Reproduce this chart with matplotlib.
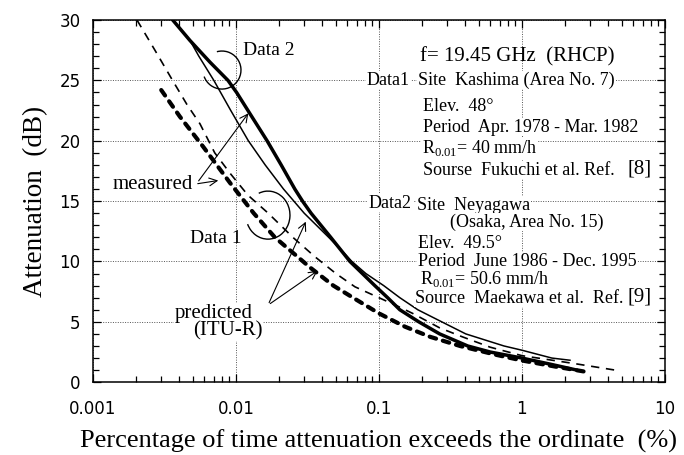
import matplotlib
matplotlib.use("Agg")
import matplotlib.pyplot as plt
from matplotlib.patches import Arc
from matplotlib.ticker import LogLocator, FixedLocator, MultipleLocator, FixedFormatter

SERIF = "Liberation Serif"
SANS = "DejaVu Sans"

# curves: percentage of time (%) vs attenuation (dB)
thick_solid_x = [0.00361, 0.00477, 0.00659, 0.00879, 0.0101, 0.0129, 0.0165, 0.0207, 0.0258,
                 0.0292, 0.0335, 0.0460, 0.0627, 0.0936, 0.115, 0.140, 0.19, 0.266, 0.418,
                 0.6, 1.0, 1.57, 2.43]
thick_solid_y = [30.0, 28.3, 26.5, 25.0, 24.0, 22.0, 20.0, 18.0, 16.0,
                 15.0, 14.0, 12.0, 10.0, 8.0, 7.0, 6.0, 5.0, 4.0, 3.0,
                 2.5, 2.0, 1.5, 1.0]

thin_solid_x = [0.00361, 0.00477, 0.0055, 0.0070, 0.0092, 0.0122, 0.0160, 0.0215, 0.0300,
                0.0445, 0.0540, 0.0647, 0.081, 0.108, 0.140, 0.187, 0.275, 0.405, 0.75,
                1.0, 1.62, 2.17]
thin_solid_y = [30.0, 28.3, 27.0, 25.0, 22.5, 20.0, 18.0, 16.0, 14.0,
                12.0, 11.0, 10.0, 9.0, 8.0, 7.0, 6.0, 5.0, 4.0, 3.0,
                2.65, 2.0, 1.82]

thin_dash_x = [0.00203, 0.00271, 0.0036, 0.00454, 0.0056, 0.0071, 0.0091, 0.0121, 0.0168,
               0.025, 0.0356, 0.050, 0.068, 0.1, 0.135, 0.172, 0.266, 0.385, 0.60,
               1.0, 2.31, 4.5]
thin_dash_y = [30.0, 27.5, 25.0, 23.0, 21.4, 19.0, 17.3, 15.5, 14.0,
               12.0, 10.4, 9.0, 7.9, 7.0, 6.3, 5.7, 4.5, 3.75, 2.9,
               2.2, 1.55, 1.0]

thick_dash_x = [0.0030, 0.00405, 0.0059, 0.0091, 0.0133, 0.0187, 0.0263, 0.033, 0.048,
                0.068, 0.1, 0.152, 0.228, 0.369, 0.67, 1.0, 1.7, 2.9]
thick_dash_y = [24.2, 22.0, 19.5, 16.5, 14.0, 12.0, 10.5, 9.5, 8.0,
                6.9, 5.7, 4.6, 3.76, 3.0, 2.25, 1.8, 1.3, 0.83]

x_ticks = [0.001, 0.01, 0.1, 1, 10]
x_labels = ["0.001", "0.01", "0.1", "1", "10"]
y_ticks = [0, 5, 10, 15, 20, 25, 30]

fig = plt.figure(figsize=(6.84, 4.55), dpi=100)
ax = fig.add_axes([0.136, 0.160, 0.836, 0.796])

ax.plot(thick_solid_x, thick_solid_y, color="black", lw=2.5, solid_capstyle="round",
        solid_joinstyle="round", zorder=3)
ax.plot(thin_solid_x, thin_solid_y, color="black", lw=1.1, zorder=3)
ax.plot(thin_dash_x, thin_dash_y, color="black", lw=1.2, linestyle=(0, (5, 4)), zorder=3)
ax.plot(thick_dash_x, thick_dash_y, color="black", lw=3.0, linestyle=(0, (1.6, 1.7)),
        dash_capstyle="round", zorder=3)

ax.set_xscale("log")
ax.set_xlim(0.001, 10)
ax.set_ylim(0, 30)
ax.xaxis.set_major_locator(FixedLocator(x_ticks))
ax.xaxis.set_major_formatter(FixedFormatter(x_labels))
ax.xaxis.set_minor_locator(LogLocator(base=10, subs=range(2, 10)))
ax.yaxis.set_major_locator(FixedLocator(y_ticks))
ax.yaxis.set_minor_locator(MultipleLocator(1))
ax.tick_params(which="both", direction="in", top=True, right=True, width=0.9)
ax.tick_params(which="major", length=6)
ax.tick_params(which="minor", length=4)
ax.tick_params(axis="x", which="major", pad=13)
ax.tick_params(axis="y", which="major", pad=9)
for lab in ax.get_xticklabels() + ax.get_yticklabels():
    lab.set_fontfamily(SANS)
    lab.set_fontsize(12)
for s in ax.spines.values():
    s.set_linewidth(1.1)

ax.grid(True, which="major", color="#555555", linestyle=(0, (1, 1.5)), linewidth=0.7)
ax.set_axisbelow(True)

ax.set_xlabel("Percentage of time attenuation exceeds the ordinate  (%)",
              fontfamily=SERIF, fontsize=19, labelpad=8)
ax.set_ylabel("Attenuation  (dB)", fontfamily=SERIF, fontsize=19.5, labelpad=8)


def px(x, y):
    # pixel in the reference picture -> axes fraction
    return ((x - 93) / 572.0, (382 - y) / 362.0)


box = dict(facecolor="white", edgecolor="none", pad=0.5)

ax.text(*px(243, 50), "Data 2", transform=ax.transAxes, fontfamily=SERIF, fontsize=14,
        va="center", ha="left")
ax.text(*px(190, 238), "Data 1", transform=ax.transAxes, fontfamily=SERIF, fontsize=14,
        va="center", ha="left")
ax.add_patch(Arc(px(222, 70), 38 / 572.0, 38 / 362.0, theta1=210, theta2=100,
                 transform=ax.transAxes, color="black", lw=1.0))
ax.add_patch(Arc(px(268, 215), 44 / 572.0, 48 / 362.0, theta1=215, theta2=105,
                 transform=ax.transAxes, color="black", lw=1.0))

ax.text(*px(113, 184), "measured", transform=ax.transAxes, fontfamily=SERIF, fontsize=15,
        va="center", ha="left", bbox=box)
arrow = dict(arrowstyle="->", color="black", lw=0.8, mutation_scale=14)
ax.annotate("", xy=px(250, 111), xytext=px(197, 183), xycoords="axes fraction",
            textcoords="axes fraction", arrowprops=arrow)
ax.annotate("", xy=px(221, 180), xytext=px(195, 184), xycoords="axes fraction",
            textcoords="axes fraction", arrowprops=arrow)

ax.text(*px(214, 313), "predicted", transform=ax.transAxes, fontfamily=SERIF, fontsize=15,
        va="center", ha="center", bbox=box)
ax.text(*px(228, 331), "(ITU-R)", transform=ax.transAxes, fontfamily=SERIF, fontsize=15,
        va="center", ha="center", bbox=box)
ax.annotate("", xy=px(307, 219), xytext=px(268, 305), xycoords="axes fraction",
            textcoords="axes fraction", arrowprops=arrow)
ax.annotate("", xy=px(320, 269), xytext=px(268, 305), xycoords="axes fraction",
            textcoords="axes fraction", arrowprops=arrow)

ax.text(*px(420, 57), "f= 19.45 GHz  (RHCP)", transform=ax.transAxes, fontfamily=SERIF,
        fontsize=15, va="center", ha="left")

info = [
    (367, 80, "Data1"),
    (418, 80, "Site  Kashima (Area No. 7)"),
    (423, 106, "Elev.  48°"),
    (423, 127, "Period  Apr. 1978 - Mar. 1982"),
    (422, 148, r"R$_{\mathregular{0.01}}$= 40 mm/h"),
    (423, 170, "Sourse  Fukuchi et al. Ref."),
    (369, 203, "Data2"),
    (417, 205, "Site  Neyagawa"),
    (450, 222, "(Osaka, Area No. 15)"),
    (418, 243, "Elev.  49.5°"),
    (418, 261, "Period  June 1986 - Dec. 1995"),
    (420, 279, r"R$_{\mathregular{0.01}}$= 50.6 mm/h"),
    (415, 298, "Source  Maekawa et al.  Ref."),
]
for x, y, s in info:
    ax.text(*px(x, y), s, transform=ax.transAxes, fontfamily=SERIF, fontsize=13,
            va="center", ha="left", bbox=box)
ax.text(*px(652, 169), "[8]", transform=ax.transAxes, fontfamily=SERIF, fontsize=15,
        va="center", ha="right", bbox=box)
ax.text(*px(652, 297), "[9]", transform=ax.transAxes, fontfamily=SERIF, fontsize=15,
        va="center", ha="right", bbox=box)

fig.savefig("out.png", dpi=100)
